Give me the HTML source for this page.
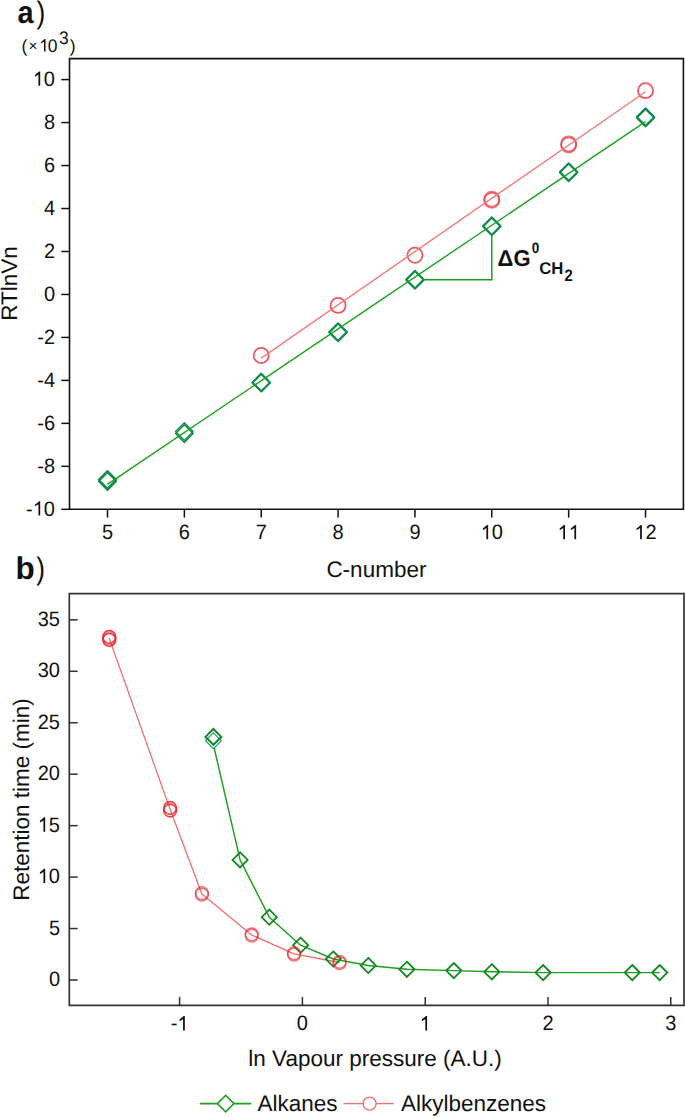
<!DOCTYPE html>
<html><head><meta charset="utf-8"><style>
html,body{margin:0;padding:0;background:#fff;}
svg{display:block;}
text{font-family:"Liberation Sans", sans-serif;fill:#111;text-rendering:geometricPrecision;}
.tl{font-size:20px;}
.tt{font-size:22.5px;}
.lab{font-size:31px;}
.sm{font-size:17.5px;}
.dg{font-size:22px;font-weight:bold;}
.dg0{font-size:13.5px;font-weight:bold;}
.dgs{font-size:15.5px;font-weight:bold;}
</style></head><body>
<svg width="685" height="1117" viewBox="0 0 685 1117">
<rect width="685" height="1117" fill="#fff"/>
<path d="M69.5,58.6H683.4V509.3H69.5Z" fill="none" stroke="#111" stroke-width="1.6"/>
<line x1="61.3" y1="509.30" x2="69.5" y2="509.30" stroke="#111" stroke-width="1.5"/>
<text transform="translate(26.09,515.50) scale(1.0,1.04)" font-size="20" style="font-kerning:none">- 0</text>
<path transform="translate(32.75,515.50) scale(0.00977,-0.00977)" d="M583,0L583,1147L223,935L223,1108L655,1466L763,1466L763,0Z" fill="#111"/>
<line x1="61.3" y1="466.33" x2="69.5" y2="466.33" stroke="#111" stroke-width="1.5"/>
<text transform="translate(37.22,472.53) scale(1.0,1.04)" font-size="20" style="font-kerning:none">-8</text>
<line x1="61.3" y1="423.36" x2="69.5" y2="423.36" stroke="#111" stroke-width="1.5"/>
<text transform="translate(37.22,429.56) scale(1.0,1.04)" font-size="20" style="font-kerning:none">-6</text>
<line x1="61.3" y1="380.39" x2="69.5" y2="380.39" stroke="#111" stroke-width="1.5"/>
<text transform="translate(37.22,386.59) scale(1.0,1.04)" font-size="20" style="font-kerning:none">-4</text>
<line x1="61.3" y1="337.42" x2="69.5" y2="337.42" stroke="#111" stroke-width="1.5"/>
<text transform="translate(37.22,343.62) scale(1.0,1.04)" font-size="20" style="font-kerning:none">-2</text>
<line x1="61.3" y1="294.45" x2="69.5" y2="294.45" stroke="#111" stroke-width="1.5"/>
<text transform="translate(43.88,300.65) scale(1.0,1.04)" font-size="20" style="font-kerning:none">0</text>
<line x1="61.3" y1="251.48" x2="69.5" y2="251.48" stroke="#111" stroke-width="1.5"/>
<text transform="translate(43.88,257.68) scale(1.0,1.04)" font-size="20" style="font-kerning:none">2</text>
<line x1="61.3" y1="208.51" x2="69.5" y2="208.51" stroke="#111" stroke-width="1.5"/>
<text transform="translate(43.88,214.71) scale(1.0,1.04)" font-size="20" style="font-kerning:none">4</text>
<line x1="61.3" y1="165.54" x2="69.5" y2="165.54" stroke="#111" stroke-width="1.5"/>
<text transform="translate(43.88,171.74) scale(1.0,1.04)" font-size="20" style="font-kerning:none">6</text>
<line x1="61.3" y1="122.57" x2="69.5" y2="122.57" stroke="#111" stroke-width="1.5"/>
<text transform="translate(43.88,128.77) scale(1.0,1.04)" font-size="20" style="font-kerning:none">8</text>
<line x1="61.3" y1="79.60" x2="69.5" y2="79.60" stroke="#111" stroke-width="1.5"/>
<text transform="translate(32.75,85.80) scale(1.0,1.04)" font-size="20" style="font-kerning:none"> 0</text>
<path transform="translate(32.75,85.80) scale(0.00977,-0.00977)" d="M583,0L583,1147L223,935L223,1108L655,1466L763,1466L763,0Z" fill="#111"/>
<line x1="107.50" y1="509.3" x2="107.50" y2="517.6" stroke="#111" stroke-width="1.5"/>
<text transform="translate(101.94,539.30) scale(1.0,1.04)" font-size="20" style="font-kerning:none">5</text>
<line x1="184.36" y1="509.3" x2="184.36" y2="517.6" stroke="#111" stroke-width="1.5"/>
<text transform="translate(178.80,539.30) scale(1.0,1.04)" font-size="20" style="font-kerning:none">6</text>
<line x1="261.22" y1="509.3" x2="261.22" y2="517.6" stroke="#111" stroke-width="1.5"/>
<text transform="translate(255.66,539.30) scale(1.0,1.04)" font-size="20" style="font-kerning:none">7</text>
<line x1="338.08" y1="509.3" x2="338.08" y2="517.6" stroke="#111" stroke-width="1.5"/>
<text transform="translate(332.52,539.30) scale(1.0,1.04)" font-size="20" style="font-kerning:none">8</text>
<line x1="414.94" y1="509.3" x2="414.94" y2="517.6" stroke="#111" stroke-width="1.5"/>
<text transform="translate(409.38,539.30) scale(1.0,1.04)" font-size="20" style="font-kerning:none">9</text>
<line x1="491.80" y1="509.3" x2="491.80" y2="517.6" stroke="#111" stroke-width="1.5"/>
<text transform="translate(480.68,539.30) scale(1.0,1.04)" font-size="20" style="font-kerning:none"> 0</text>
<path transform="translate(480.68,539.30) scale(0.00977,-0.00977)" d="M583,0L583,1147L223,935L223,1108L655,1466L763,1466L763,0Z" fill="#111"/>
<line x1="568.66" y1="509.3" x2="568.66" y2="517.6" stroke="#111" stroke-width="1.5"/>
<text transform="translate(557.54,539.30) scale(1.0,1.04)" font-size="20" style="font-kerning:none">  </text>
<path transform="translate(557.54,539.30) scale(0.00977,-0.00977)" d="M583,0L583,1147L223,935L223,1108L655,1466L763,1466L763,0Z" fill="#111"/>
<path transform="translate(568.66,539.30) scale(0.00977,-0.00977)" d="M583,0L583,1147L223,935L223,1108L655,1466L763,1466L763,0Z" fill="#111"/>
<line x1="645.52" y1="509.3" x2="645.52" y2="517.6" stroke="#111" stroke-width="1.5"/>
<text transform="translate(634.40,539.30) scale(1.0,1.04)" font-size="20" style="font-kerning:none"> 2</text>
<path transform="translate(634.40,539.30) scale(0.00977,-0.00977)" d="M583,0L583,1147L223,935L223,1108L655,1466L763,1466L763,0Z" fill="#111"/>
<text x="376.4" y="576.6" text-anchor="middle" class="tt">C-number</text>
<text transform="translate(16.8,283.5) rotate(-90)" text-anchor="middle" class="tt">RTlnVn</text>
<text transform="translate(17.60,23.20) scale(0.92,1.0)" font-size="31.5" text-anchor="start" font-weight="bold">a</text>
<text transform="translate(36.60,23.40) scale(0.85,1.0)" font-size="31" text-anchor="start">)</text>
<text transform="translate(21.50,51.60)" font-size="17.5" text-anchor="start">(</text>
<text transform="translate(28.60,51.00)" font-size="15.5" text-anchor="start">×</text>
<text transform="translate(39.00,51.60) scale(1.0,1.04)" font-size="17.5" style="font-kerning:none"> </text>
<path transform="translate(39.00,51.60) scale(0.00854,-0.00854)" d="M583,0L583,1147L223,935L223,1108L655,1466L763,1466L763,0Z" fill="#111"/>
<text transform="translate(47.80,51.60) scale(1.0,1.04)" font-size="17.5" text-anchor="start">0</text>
<text transform="translate(59.00,43.50) scale(1.0,1.04)" font-size="17.5" text-anchor="start">3</text>
<text transform="translate(69.80,51.60)" font-size="17.5" text-anchor="start">)</text>
<path d="M107.50,472.40L116.30,481.20L107.50,490.00L98.70,481.20Z" fill="none" stroke="#10902c" stroke-width="1.8" stroke-linejoin="round"/>
<path d="M107.50,470.90L116.30,479.70L107.50,488.50L98.70,479.70Z" fill="none" stroke="#138a5a" stroke-width="1.8" stroke-linejoin="round"/>
<path d="M184.36,424.80L193.16,433.60L184.36,442.40L175.56,433.60Z" fill="none" stroke="#10902c" stroke-width="1.45" stroke-linejoin="round"/>
<path d="M184.36,422.80L193.16,431.60L184.36,440.40L175.56,431.60Z" fill="none" stroke="#138a5a" stroke-width="1.45" stroke-linejoin="round"/>
<path d="M261.22,374.10L270.02,382.90L261.22,391.70L252.42,382.90Z" fill="none" stroke="#10902c" stroke-width="1.8" stroke-linejoin="round"/>
<path d="M261.22,373.50L270.02,382.30L261.22,391.10L252.42,382.30Z" fill="none" stroke="#138a5a" stroke-width="1.8" stroke-linejoin="round"/>
<path d="M338.08,323.70L346.88,332.50L338.08,341.30L329.28,332.50Z" fill="none" stroke="#10902c" stroke-width="1.8" stroke-linejoin="round"/>
<path d="M338.08,323.10L346.88,331.90L338.08,340.70L329.28,331.90Z" fill="none" stroke="#138a5a" stroke-width="1.8" stroke-linejoin="round"/>
<path d="M414.94,271.20L423.74,280.00L414.94,288.80L406.14,280.00Z" fill="none" stroke="#10902c" stroke-width="1.8" stroke-linejoin="round"/>
<path d="M414.94,270.60L423.74,279.40L414.94,288.20L406.14,279.40Z" fill="none" stroke="#138a5a" stroke-width="1.8" stroke-linejoin="round"/>
<path d="M491.80,217.80L500.60,226.60L491.80,235.40L483.00,226.60Z" fill="none" stroke="#10902c" stroke-width="1.8" stroke-linejoin="round"/>
<path d="M491.80,217.20L500.60,226.00L491.80,234.80L483.00,226.00Z" fill="none" stroke="#138a5a" stroke-width="1.8" stroke-linejoin="round"/>
<path d="M568.66,163.70L577.46,172.50L568.66,181.30L559.86,172.50Z" fill="none" stroke="#10902c" stroke-width="1.8" stroke-linejoin="round"/>
<path d="M568.66,163.10L577.46,171.90L568.66,180.70L559.86,171.90Z" fill="none" stroke="#138a5a" stroke-width="1.8" stroke-linejoin="round"/>
<path d="M645.52,109.00L654.32,117.80L645.52,126.60L636.72,117.80Z" fill="none" stroke="#10902c" stroke-width="1.8" stroke-linejoin="round"/>
<path d="M645.52,108.10L654.32,116.90L645.52,125.70L636.72,116.90Z" fill="none" stroke="#138a5a" stroke-width="1.8" stroke-linejoin="round"/>
<circle cx="261.22" cy="355.50" r="7.55" fill="none" stroke="#e8202a" stroke-width="1.8" stroke-opacity="0.75"/>
<circle cx="338.08" cy="305.40" r="7.55" fill="none" stroke="#e8202a" stroke-width="1.8" stroke-opacity="0.75"/>
<circle cx="414.94" cy="255.25" r="7.55" fill="none" stroke="#e8202a" stroke-width="1.8" stroke-opacity="0.75"/>
<circle cx="491.80" cy="199.10" r="7.55" fill="none" stroke="#e8202a" stroke-width="1.7" stroke-opacity="0.62"/>
<circle cx="491.80" cy="200.40" r="7.55" fill="none" stroke="#e8202a" stroke-width="1.7" stroke-opacity="0.62"/>
<circle cx="568.66" cy="143.80" r="7.55" fill="none" stroke="#e8202a" stroke-width="1.7" stroke-opacity="0.62"/>
<circle cx="568.66" cy="145.10" r="7.55" fill="none" stroke="#e8202a" stroke-width="1.7" stroke-opacity="0.62"/>
<circle cx="645.52" cy="90.65" r="7.55" fill="none" stroke="#e8202a" stroke-width="1.8" stroke-opacity="0.75"/>
<line x1="107.4" y1="484.45" x2="645.5" y2="121.61" stroke="#17a317" stroke-width="1.4"/>
<line x1="261.2" y1="358.13" x2="645.6" y2="91.75" stroke="#f27b7b" stroke-width="1.4"/>
<path d="M423.44,279.7H491.80V234.80" fill="none" stroke="#17a317" stroke-width="1.5"/>
<text transform="translate(497.60,265.60) scale(1.0,1.04)" font-size="22" text-anchor="start" font-weight="bold">ΔG</text>
<text transform="translate(531.80,252.90) scale(0.9,1.0)" font-size="15" text-anchor="start" font-weight="bold">0</text>
<text transform="translate(539.30,273.50) scale(0.98,1.0)" font-size="17" text-anchor="start" font-weight="bold">CH</text>
<text transform="translate(564.60,280.80) scale(0.9,1.0)" font-size="16.5" text-anchor="start" font-weight="bold">2</text>
<path d="M69.3,593.7H684.0V1005.3H69.3Z" fill="none" stroke="#333" stroke-width="1.7"/>
<line x1="69.3" y1="980.00" x2="77.7" y2="980.00" stroke="#333" stroke-width="1.5"/>
<text transform="translate(48.88,986.00) scale(1.0,1.04)" font-size="20" style="font-kerning:none">0</text>
<line x1="69.3" y1="928.55" x2="77.7" y2="928.55" stroke="#333" stroke-width="1.5"/>
<text transform="translate(48.88,934.55) scale(1.0,1.04)" font-size="20" style="font-kerning:none">5</text>
<line x1="69.3" y1="877.10" x2="77.7" y2="877.10" stroke="#333" stroke-width="1.5"/>
<text transform="translate(37.75,883.10) scale(1.0,1.04)" font-size="20" style="font-kerning:none"> 0</text>
<path transform="translate(37.75,883.10) scale(0.00977,-0.00977)" d="M583,0L583,1147L223,935L223,1108L655,1466L763,1466L763,0Z" fill="#111"/>
<line x1="69.3" y1="825.65" x2="77.7" y2="825.65" stroke="#333" stroke-width="1.5"/>
<text transform="translate(37.75,831.65) scale(1.0,1.04)" font-size="20" style="font-kerning:none"> 5</text>
<path transform="translate(37.75,831.65) scale(0.00977,-0.00977)" d="M583,0L583,1147L223,935L223,1108L655,1466L763,1466L763,0Z" fill="#111"/>
<line x1="69.3" y1="774.20" x2="77.7" y2="774.20" stroke="#333" stroke-width="1.5"/>
<text transform="translate(37.75,780.20) scale(1.0,1.04)" font-size="20" style="font-kerning:none">20</text>
<line x1="69.3" y1="722.75" x2="77.7" y2="722.75" stroke="#333" stroke-width="1.5"/>
<text transform="translate(37.75,728.75) scale(1.0,1.04)" font-size="20" style="font-kerning:none">25</text>
<line x1="69.3" y1="671.30" x2="77.7" y2="671.30" stroke="#333" stroke-width="1.5"/>
<text transform="translate(37.75,677.30) scale(1.0,1.04)" font-size="20" style="font-kerning:none">30</text>
<line x1="69.3" y1="619.85" x2="77.7" y2="619.85" stroke="#333" stroke-width="1.5"/>
<text transform="translate(37.75,625.85) scale(1.0,1.04)" font-size="20" style="font-kerning:none">35</text>
<line x1="179.60" y1="1005.3" x2="179.60" y2="996.9" stroke="#333" stroke-width="1.5"/>
<text transform="translate(170.71,1030.40) scale(1.0,1.04)" font-size="20" style="font-kerning:none">- </text>
<path transform="translate(177.37,1030.40) scale(0.00977,-0.00977)" d="M583,0L583,1147L223,935L223,1108L655,1466L763,1466L763,0Z" fill="#111"/>
<line x1="302.40" y1="1005.3" x2="302.40" y2="996.9" stroke="#333" stroke-width="1.5"/>
<text transform="translate(296.84,1030.40) scale(1.0,1.04)" font-size="20" style="font-kerning:none">0</text>
<line x1="425.20" y1="1005.3" x2="425.20" y2="996.9" stroke="#333" stroke-width="1.5"/>
<text transform="translate(419.64,1030.40) scale(1.0,1.04)" font-size="20" style="font-kerning:none"> </text>
<path transform="translate(419.64,1030.40) scale(0.00977,-0.00977)" d="M583,0L583,1147L223,935L223,1108L655,1466L763,1466L763,0Z" fill="#111"/>
<line x1="548.00" y1="1005.3" x2="548.00" y2="996.9" stroke="#333" stroke-width="1.5"/>
<text transform="translate(542.44,1030.40) scale(1.0,1.04)" font-size="20" style="font-kerning:none">2</text>
<line x1="670.80" y1="1005.3" x2="670.80" y2="996.9" stroke="#333" stroke-width="1.5"/>
<text transform="translate(665.24,1030.40) scale(1.0,1.04)" font-size="20" style="font-kerning:none">3</text>
<text x="375" y="1066" text-anchor="middle" class="tt">ln Vapour pressure (A.U.)</text>
<text transform="translate(28.6,799.5) rotate(-90)" text-anchor="middle" class="tt">Retention time (min)</text>
<text transform="translate(15.50,578.50)" font-size="31.5" text-anchor="start" font-weight="bold">b</text>
<text transform="translate(36.30,578.50) scale(0.85,1.0)" font-size="31" text-anchor="start">)</text>
<polyline points="214.2,748.0 240.1,859.9 269.3,917.2 300.6,945.2 333.3,959.0 368.3,965.5 406.9,969.3 453.8,970.6 491.8,971.8 543.1,972.6 632.3,972.6 659.7,972.6" fill="none" stroke="#1d9e1d" stroke-width="1.45" stroke-linejoin="round"/>
<polyline points="109.2,638.3 170.1,809.3 201.9,893.9 251.7,935.0 294.0,953.9 339.6,962.5" fill="none" stroke="#f07070" stroke-width="1.3" stroke-linejoin="round"/>
<path d="M213.40,732.80L221.30,740.70L213.40,748.60L205.50,740.70Z" fill="none" stroke="#1c9a80" stroke-width="1.2"/>
<path d="M213.40,729.00L221.30,736.90L213.40,744.80L205.50,736.90Z" fill="none" stroke="#0f8a1f" stroke-width="2.0"/>
<path d="M240.10,852.30L247.70,859.90L240.10,867.50L232.50,859.90Z" fill="none" stroke="#0f8a1f" stroke-width="1.8"/>
<path d="M269.30,909.60L276.90,917.20L269.30,924.80L261.70,917.20Z" fill="none" stroke="#0f8a1f" stroke-width="1.8"/>
<path d="M300.60,937.60L308.20,945.20L300.60,952.80L293.00,945.20Z" fill="none" stroke="#0f8a1f" stroke-width="1.8"/>
<path d="M333.30,951.40L340.90,959.00L333.30,966.60L325.70,959.00Z" fill="none" stroke="#0f8a1f" stroke-width="1.8"/>
<path d="M368.30,957.90L375.90,965.50L368.30,973.10L360.70,965.50Z" fill="none" stroke="#0f8a1f" stroke-width="1.8"/>
<path d="M406.90,961.70L414.50,969.30L406.90,976.90L399.30,969.30Z" fill="none" stroke="#0f8a1f" stroke-width="1.8"/>
<path d="M453.80,963.00L461.40,970.60L453.80,978.20L446.20,970.60Z" fill="none" stroke="#0f8a1f" stroke-width="1.8"/>
<path d="M491.80,964.20L499.40,971.80L491.80,979.40L484.20,971.80Z" fill="none" stroke="#0f8a1f" stroke-width="1.8"/>
<path d="M543.10,965.00L550.70,972.60L543.10,980.20L535.50,972.60Z" fill="none" stroke="#0f8a1f" stroke-width="1.8"/>
<path d="M632.30,965.00L639.90,972.60L632.30,980.20L624.70,972.60Z" fill="none" stroke="#0f8a1f" stroke-width="1.8"/>
<path d="M659.70,965.00L667.30,972.60L659.70,980.20L652.10,972.60Z" fill="none" stroke="#0f8a1f" stroke-width="1.8"/>
<circle cx="109.30" cy="636.90" r="6.4" fill="none" stroke="#e8202a" stroke-width="1.6" stroke-opacity="0.85"/>
<circle cx="109.30" cy="638.40" r="6.4" fill="none" stroke="#e8202a" stroke-width="1.4" stroke-opacity="0.5"/>
<circle cx="109.30" cy="639.90" r="6.4" fill="none" stroke="#e8202a" stroke-width="1.6" stroke-opacity="0.85"/>
<circle cx="170.10" cy="808.00" r="6.4" fill="none" stroke="#e8202a" stroke-width="1.6" stroke-opacity="0.85"/>
<circle cx="170.10" cy="810.50" r="6.4" fill="none" stroke="#e8202a" stroke-width="1.6" stroke-opacity="0.85"/>
<circle cx="201.90" cy="893.20" r="6.4" fill="none" stroke="#e8202a" stroke-width="1.5" stroke-opacity="0.6"/>
<circle cx="201.90" cy="894.60" r="6.4" fill="none" stroke="#e8202a" stroke-width="1.5" stroke-opacity="0.6"/>
<circle cx="251.70" cy="934.30" r="6.4" fill="none" stroke="#e8202a" stroke-width="1.5" stroke-opacity="0.6"/>
<circle cx="251.70" cy="935.70" r="6.4" fill="none" stroke="#e8202a" stroke-width="1.5" stroke-opacity="0.6"/>
<circle cx="294.00" cy="953.20" r="6.4" fill="none" stroke="#e8202a" stroke-width="1.5" stroke-opacity="0.6"/>
<circle cx="294.00" cy="954.60" r="6.4" fill="none" stroke="#e8202a" stroke-width="1.5" stroke-opacity="0.6"/>
<circle cx="339.60" cy="961.80" r="6.4" fill="none" stroke="#e8202a" stroke-width="1.5" stroke-opacity="0.6"/>
<circle cx="339.60" cy="963.20" r="6.4" fill="none" stroke="#e8202a" stroke-width="1.5" stroke-opacity="0.6"/>
<line x1="199.9" y1="1103.6" x2="251.3" y2="1103.6" stroke="#1d9e1d" stroke-width="1.6"/>
<path d="M225.70,1095.30L234.00,1103.60L225.70,1111.90L217.40,1103.60Z" fill="#fff" stroke="#1d9e1d" stroke-width="1.6"/>
<text x="257.5" y="1111.3" class="tt">Alkanes</text>
<line x1="343.4" y1="1103.6" x2="393.8" y2="1103.6" stroke="#f07070" stroke-width="1.4"/>
<circle cx="369.60" cy="1103.60" r="6.5" fill="#fff" stroke="#f07070" stroke-width="1.4"/>
<text x="401" y="1111.3" class="tt">Alkylbenzenes</text>
</svg>
</body></html>
